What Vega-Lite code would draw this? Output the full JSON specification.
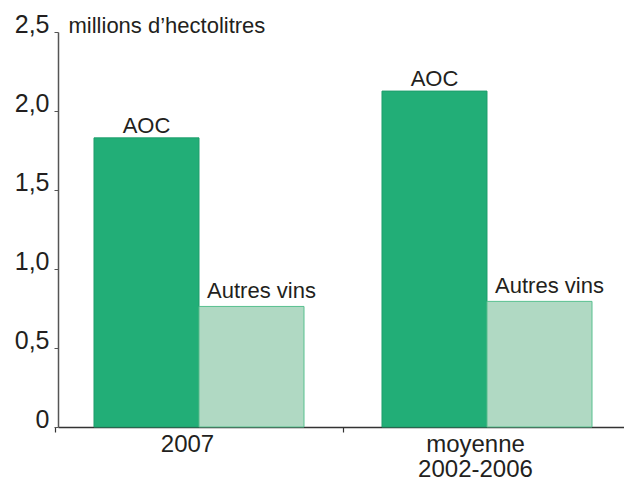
{
  "$schema": "https://vega.github.io/schema/vega-lite/v6.json",
  "autosize": {"type": "none"},
  "padding": {"left": 58, "top": 32, "right": 0, "bottom": 56},
  "width": 570,
  "height": 395,
  "background": "white",
  "config": {
    "view": {"stroke": null},
    "font": "Liberation Sans",
    "axis": {"labelFont": "Liberation Sans", "titleFont": "Liberation Sans", "labelColor": "#231f20", "titleColor": "#231f20", "grid": false}
  },
  "data": {
    "values": [
      {"groupe": "2007", "type": "AOC", "valeur": 1.83},
      {"groupe": "2007", "type": "Autres vins", "valeur": 0.763},
      {"groupe": "moyenne 2002-2006", "type": "AOC", "valeur": 2.126},
      {"groupe": "moyenne 2002-2006", "type": "Autres vins", "valeur": 0.795}
    ]
  },
  "encoding": {
    "x": {
      "field": "groupe", "type": "nominal", "sort": null,
      "scale": {"paddingInner": 0.2708, "paddingOuter": 0.125},
      "axis": {
        "title": null, "labelAngle": 0, "domainColor": "#333333", "domainWidth": 1.5,
        "tickColor": "#333333", "tickSize": 5, "tickWidth": 1.2, "tickOffset": -144,
        "labelOffset": 132, "labelFontSize": 24, "labelPadding": 0, "labelLineHeight": 25.5,
        "labelExpr": "split(datum.label, ' ')"
      }
    },
    "xOffset": {"field": "type", "type": "nominal", "sort": ["AOC", "Autres vins"], "scale": {"paddingInner": 0, "paddingOuter": 0}},
    "y": {
      "field": "valeur", "type": "quantitative",
      "scale": {"domain": [0, 2.5], "nice": false},
      "axis": {
        "values": [0, 0.5, 1, 1.5, 2, 2.5],
        "labelExpr": "datum.value == 0 ? '0' : replace(format(datum.value, '.1f'), '.', ',')",
        "labelFontSize": 25, "labelBaseline": "alphabetic", "labelPadding": 5,
        "tickSize": 4, "tickColor": "#555555", "domainColor": "#555555", "domainWidth": 1.5,
        "title": "millions d’hectolitres", "titleAngle": 0, "titleX": 10, "titleY": 0,
        "titleAlign": "left", "titleBaseline": "alphabetic", "titleFontSize": 22, "titleFontWeight": "normal"
      }
    }
  },
  "layer": [
    {
      "mark": {"type": "bar", "strokeWidth": 1},
      "encoding": {
        "color": {"field": "type", "type": "nominal", "scale": {"domain": ["AOC", "Autres vins"], "range": ["#22AE77", "#B0D9C3"]}, "legend": null},
        "stroke": {"field": "type", "type": "nominal", "scale": {"domain": ["AOC", "Autres vins"], "range": ["#1E9E6C", "#58C08F"]}, "legend": null}
      }
    },
    {
      "transform": [{"filter": "datum.type == 'AOC'"}],
      "mark": {"type": "text", "fontSize": 22, "baseline": "alphabetic", "dy": -5, "color": "#231f20"},
      "encoding": {"text": {"field": "type"}}
    },
    {
      "transform": [{"filter": "datum.type == 'Autres vins'"}],
      "mark": {"type": "text", "fontSize": 22, "baseline": "alphabetic", "dy": -8, "dx": 10, "color": "#231f20"},
      "encoding": {"text": {"field": "type"}}
    }
  ]
}
